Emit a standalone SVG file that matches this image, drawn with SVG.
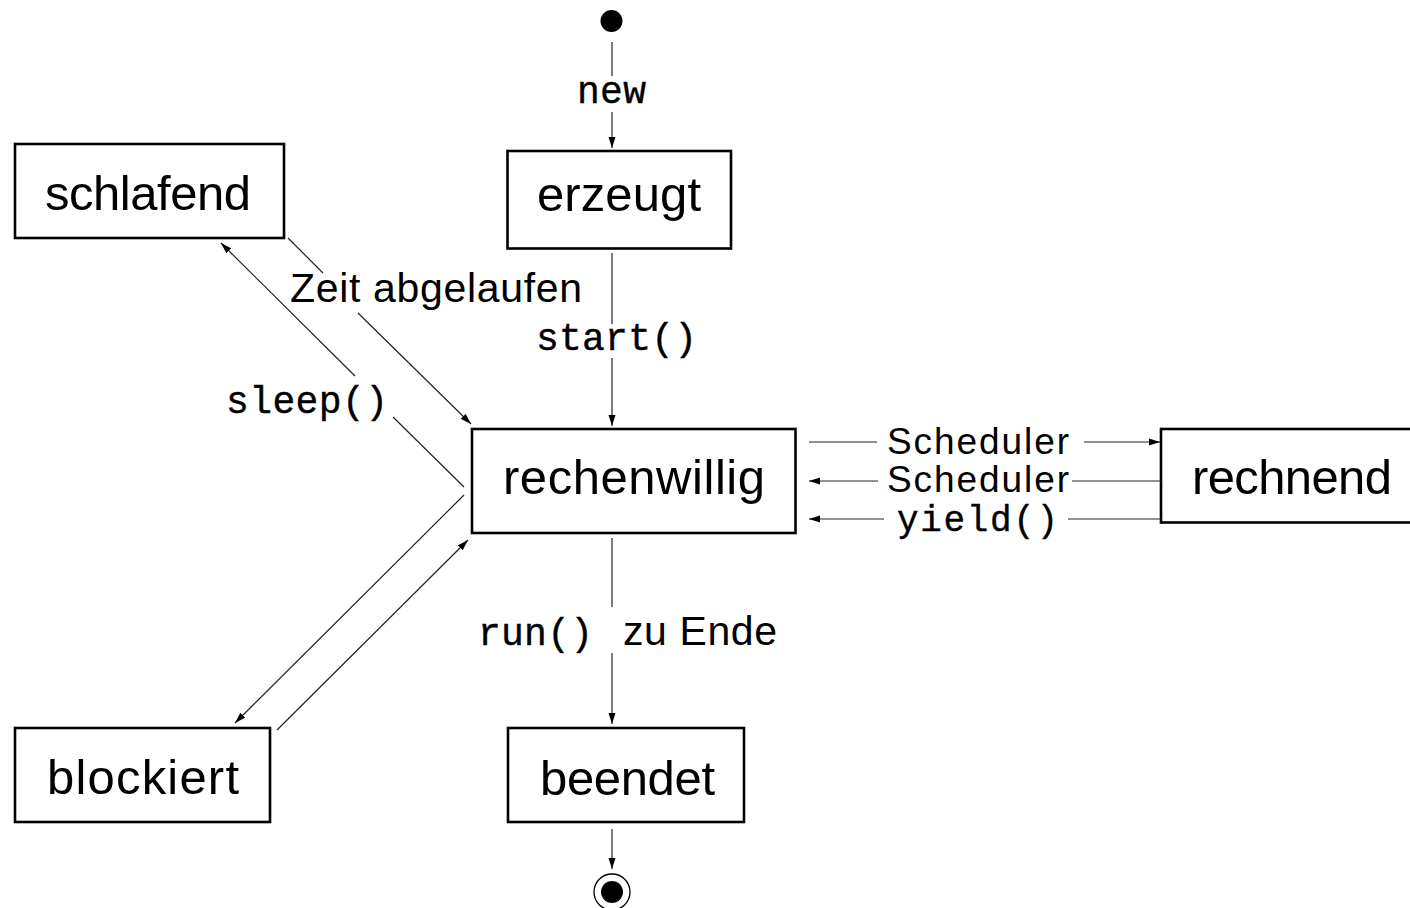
<svg xmlns="http://www.w3.org/2000/svg" width="1410" height="908" viewBox="0 0 1410 908">
  <defs>
    <marker id="arrow" markerUnits="userSpaceOnUse" markerWidth="12" markerHeight="8" refX="11" refY="4" orient="auto">
      <path d="M0,0.5 L11,4 L0,7.5 Z" fill="#000"/>
    </marker>
    <style>
      .box { fill: #fff; stroke: #000; stroke-width: 2.6; }
      .node { font-family: "Liberation Sans", Arial, sans-serif; font-size: 49px; fill: #000; text-anchor: middle; }
      .lbl { font-family: "Liberation Sans", Arial, sans-serif; font-size: 41px; fill: #000; }
      .sched { font-size: 37px; }
      .code { font-family: "Liberation Mono", "Courier New", monospace; font-size: 38px; fill: #000; stroke: #000; stroke-width: 0.4; }
      .small { font-size: 36px; }
      .edge { fill: none; stroke: #222; stroke-width: 1.2; }
      .arr { marker-end: url(#arrow); }
    </style>
  </defs>

  <!-- states -->
  <g id="start-node">
    <circle cx="611.5" cy="21" r="11" fill="#000"/>
  </g>
  <g id="schlafend">
    <rect class="box" x="15" y="144" width="269" height="94"/>
    <text class="node" x="148" y="210" textLength="206">schlafend</text>
  </g>
  <g id="erzeugt">
    <rect class="box" x="507.5" y="151" width="223.5" height="97.5"/>
    <text class="node" x="619" y="211" textLength="164">erzeugt</text>
  </g>
  <g id="rechenwillig">
    <rect class="box" x="472" y="429" width="323.5" height="104"/>
    <text class="node" x="634" y="494" textLength="262">rechenwillig</text>
  </g>
  <g id="rechnend">
    <rect class="box" x="1161" y="429" width="260" height="93.5"/>
    <text class="node" x="1292" y="494" textLength="200">rechnend</text>
  </g>
  <g id="blockiert">
    <rect class="box" x="15" y="728" width="255" height="94"/>
    <text class="node" x="143" y="794" textLength="192">blockiert</text>
  </g>
  <g id="beendet">
    <rect class="box" x="508" y="728" width="236" height="94"/>
    <text class="node" x="627.5" y="795" textLength="175">beendet</text>
  </g>
  <g id="end-node">
    <circle cx="612" cy="892" r="18" fill="none" stroke="#000" stroke-width="1.3"/>
    <circle cx="612" cy="892" r="11" fill="#000"/>
  </g>

  <!-- transitions -->
  <g id="connectors">
    <!-- new -->
    <line class="edge" x1="612" y1="42" x2="612" y2="76"/>
    <line class="edge arr" x1="612" y1="112" x2="612" y2="148"/>
    <!-- start() -->
    <line class="edge" x1="612" y1="253" x2="612" y2="324"/>
    <line class="edge arr" x1="612" y1="358" x2="612" y2="426"/>
    <!-- Zeit abgelaufen -->
    <line class="edge" x1="288" y1="238" x2="323" y2="273"/>
    <line class="edge arr" x1="358" y1="313" x2="471" y2="424"/>
    <!-- sleep() -->
    <line class="edge" x1="464" y1="487" x2="393" y2="417"/>
    <line class="edge arr" x1="355" y1="376" x2="221" y2="243"/>
    <!-- rechenwillig to blockiert -->
    <line class="edge arr" x1="464" y1="495" x2="235" y2="723"/>
    <!-- blockiert to rechenwillig -->
    <line class="edge arr" x1="277" y1="730" x2="468" y2="540"/>
    <!-- Scheduler: to rechnend -->
    <line class="edge" x1="809" y1="442" x2="877" y2="442"/>
    <line class="edge arr" x1="1084" y1="442" x2="1160" y2="442"/>
    <!-- Scheduler: back to rechenwillig -->
    <line class="edge" x1="1161" y1="481" x2="1072" y2="481"/>
    <line class="edge arr" x1="878" y1="481" x2="809" y2="481"/>
    <!-- yield() -->
    <line class="edge" x1="1161" y1="519" x2="1068" y2="519"/>
    <line class="edge arr" x1="884" y1="519" x2="809" y2="519"/>
    <!-- run() zu Ende -->
    <line class="edge" x1="612" y1="538" x2="612" y2="607"/>
    <line class="edge arr" x1="612" y1="653" x2="612" y2="724"/>
    <!-- to final state -->
    <line class="edge arr" x1="612" y1="829" x2="612" y2="869"/>
  </g>

  <!-- transition labels -->
  <g id="labels">
    <text class="code" x="577" y="103" textLength="69">new</text>
    <text class="code" x="536" y="350" textLength="161">start()</text>
    <text class="lbl" x="290" y="302" textLength="292">Zeit abgelaufen</text>
    <text class="code" x="226" y="413" textLength="162">sleep()</text>
    <text class="lbl sched" x="887" y="454" textLength="182">Scheduler</text>
    <text class="lbl sched" x="887" y="492" textLength="182">Scheduler</text>
    <text class="code small" x="897" y="531" textLength="161">yield()</text>
    <text class="code" x="478" y="645" textLength="115">run()</text>
    <text class="lbl" x="623" y="645" textLength="154">zu Ende</text>
  </g>
</svg>
